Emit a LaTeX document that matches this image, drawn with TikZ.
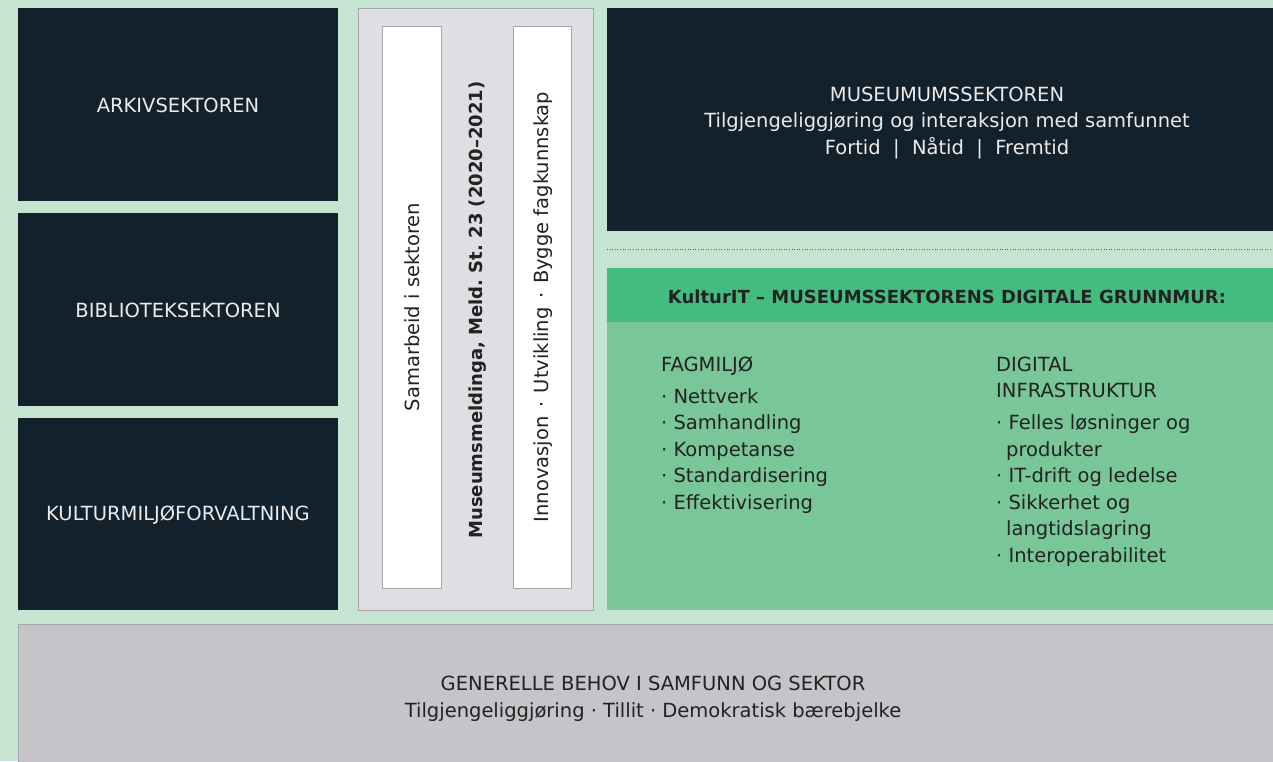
\documentclass[tikz,border=0pt]{standalone}
\usepackage{fontspec}
\setmainfont{DejaVu Sans}
\frenchspacing
\begin{document}
\begin{tikzpicture}[x=1pt,y=-1pt,
  wtxt/.style={text=white!92!black,font=\fontsize{19.5}{26.5}\selectfont,align=center},
  dtxt/.style={text=ink,font=\fontsize{19.5}{26.5}\selectfont},
  btxt/.style={text=ink,font=\fontsize{18}{24}\selectfont\bfseries},
  item/.style={dtxt,anchor=base west,inner sep=0pt}]
\definecolor{bg}{HTML}{C6E4D2}
\definecolor{navy}{HTML}{13212C}
\definecolor{panel}{HTML}{E0DEE2}
\definecolor{hdr}{HTML}{45BC7F}
\definecolor{body}{HTML}{79C799}
\definecolor{bottom}{HTML}{C5C4C9}
\definecolor{ink}{HTML}{222222}
\definecolor{edge}{HTML}{A6A6A8}
\fill[bg] (0,0) rectangle (1273,761);
\useasboundingbox (0,0) rectangle (1273,761);
% left column
\fill[navy] (18,8) rectangle (338,201);
\fill[navy] (18,213) rectangle (338,406);
\fill[navy] (18,418) rectangle (338,610);
\node[wtxt] (arkiv) at (178,105) {ARKIVSEKTOREN};
\node[wtxt] (biblio) at (178,310) {BIBLIOTEKSEKTOREN};
\node[wtxt] (kultur) at (178,515) {KULTURMILJØFORVALTNING};
% middle panel
\draw[edge,fill=panel,line width=1pt] (358,8) rectangle (593,610);
\draw[edge,fill=white,line width=1pt] (382,26) rectangle (441,588);
\draw[edge,fill=white,line width=1pt] (513,26) rectangle (571,588);
\node[dtxt,rotate=90] (samarbeid) at (412,307) {Samarbeid i sektoren};
\node[btxt,rotate=90] (meld) at (478,310) {Museumsmeldinga, Meld. St. 23 (2020–2021)};
\node[dtxt,rotate=90] (innov) at (543,307) {Innovasjon\hspace{0.44em}·\hspace{0.44em}Utvikling\hspace{0.44em}·\hspace{0.44em}Bygge fagkunnskap};
% museum box
\fill[navy] (607,8) rectangle (1273,231);
\node[wtxt] (museum) at (947,123) {MUSEUMUMSSEKTOREN\\Tilgjengeliggjøring og interaksjon med samfunnet\\Fortid \ | \ Nåtid \ | \ Fremtid};
\draw[ink!70,dotted,line width=0.6pt] (607,249) -- (1273,249);
% KulturIT
\fill[hdr] (607,268) rectangle (1273,322);
\fill[body] (607,322) rectangle (1273,610);
\node[btxt] (kit) at (947,297) {KulturIT – MUSEUMSSEKTORENS DIGITALE GRUNNMUR:};
\node[item] (f0) at (661,371) {FAGMILJØ};
\node[item] (f1) at (661,403) {· Nettverk};
\node[item] (f2) at (661,429) {· Samhandling};
\node[item] (f3) at (661,456) {· Kompetanse};
\node[item] (f4) at (661,482) {· Standardisering};
\node[item] (f5) at (661,509) {· Effektivisering};
\node[item] (d0) at (996,371) {DIGITAL};
\node[item] (d1) at (996,397) {INFRASTRUKTUR};
\node[item] (d2) at (996,429) {· Felles løsninger og};
\node[item] (d3) at (1006,456) {produkter};
\node[item] (d4) at (996,482) {· IT-drift og ledelse};
\node[item] (d5) at (996,509) {· Sikkerhet og};
\node[item] (d6) at (1006,535) {langtidslagring};
\node[item] (d7) at (996,562) {· Interoperabilitet};
% bottom
\draw[edge,fill=bottom,line width=1pt] (18,624) rectangle (1280,770);
\node[dtxt,align=center] (gen) at (653,699) {GENERELLE BEHOV I SAMFUNN OG SEKTOR\\Tilgjengeliggjøring · Tillit · Demokratisk bærebjelke};
\end{tikzpicture}
\end{document}
